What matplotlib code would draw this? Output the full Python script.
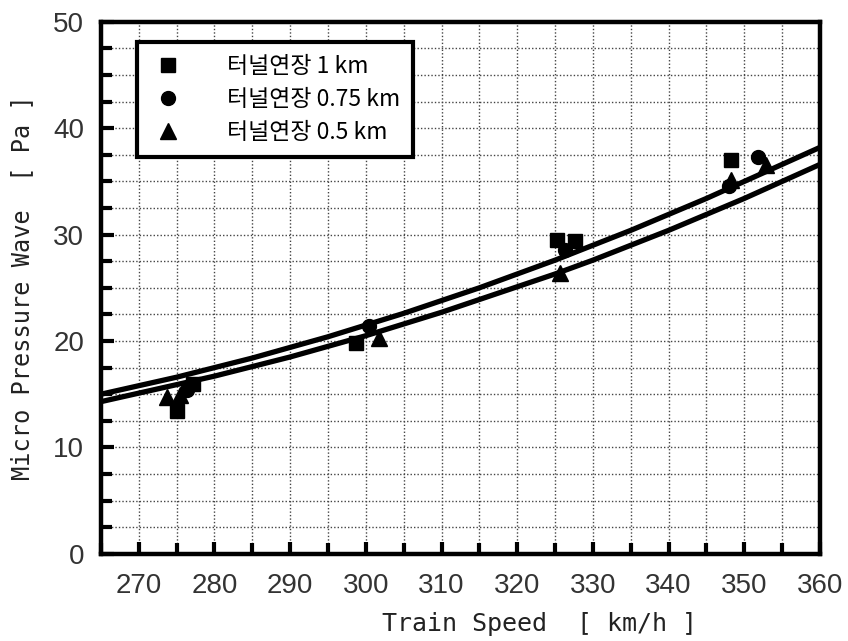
"""
Micro pressure wave vs. train speed for three tunnel lengths.
"""

import matplotlib
matplotlib.use("Agg")
import matplotlib.pyplot as plt
from matplotlib import font_manager
from matplotlib.lines import Line2D
from matplotlib.ticker import MultipleLocator

speed_1km = [275.1, 277.2, 298.7, 325.3, 327.6, 348.3]
mpw_1km = [13.4, 16.0, 19.8, 29.5, 29.4, 37.0]
speed_075km = [276.4, 300.4, 326.3, 348.0, 351.8]
mpw_075km = [15.4, 21.4, 28.6, 34.6, 37.3]
speed_05km = [273.7, 275.5, 301.7, 325.7, 348.2, 352.8]
mpw_05km = [14.7, 14.9, 20.3, 26.4, 35.1, 36.5]

# fitted curves
fit_speed = [265, 270, 275, 280, 285, 290, 295, 300, 305, 310,
             315, 320, 325, 330, 335, 340, 345, 350, 355, 360]
fit_upper = [15.0, 15.8, 16.6, 17.5, 18.4, 19.4, 20.4, 21.5, 22.6, 23.8,
             25.0, 26.3, 27.6, 29.0, 30.4, 31.9, 33.4, 35.0, 36.6, 38.2]
fit_lower = [14.3, 15.1, 15.9, 16.7, 17.6, 18.5, 19.5, 20.5, 21.6, 22.7,
             23.9, 25.1, 26.3, 27.6, 29.0, 30.4, 31.9, 33.4, 35.0, 36.6]

labels = ["터널연장 1 km", "터널연장 0.75 km", "터널연장 0.5 km"]

# fonts
installed = {f.name for f in font_manager.fontManager.ttflist}
tick_font = "Liberation Sans Narrow" if "Liberation Sans Narrow" in installed else "Liberation Sans"
mono = ["DejaVu Sans Mono", "Noto Sans CJK KR"]
korean = ["Noto Sans CJK KR", "DejaVu Sans"]

fig = plt.figure(figsize=(8.48, 6.41), dpi=100)
ax = fig.add_axes([0.119, 0.136, 0.848, 0.830])

# curves
ax.plot(fit_speed, fit_upper, "k-", lw=3.8, solid_capstyle="butt", zorder=3)
ax.plot(fit_speed, fit_lower, "k-", lw=3.8, solid_capstyle="butt", zorder=3)

# points
ax.plot(speed_1km, mpw_1km, "ks", ms=10, ls="none", zorder=4)
ax.plot(speed_075km, mpw_075km, "ko", ms=10, ls="none", zorder=4)
ax.plot(speed_05km, mpw_05km, "k^", ms=11, ls="none", zorder=4)

# axes
ax.set_xlim(265, 360)
ax.set_ylim(0, 50)
ax.xaxis.set_major_locator(MultipleLocator(10))
ax.xaxis.set_minor_locator(MultipleLocator(5))
ax.yaxis.set_major_locator(MultipleLocator(10))
ax.yaxis.set_minor_locator(MultipleLocator(2.5))
ax.grid(which="both", ls=(0, (1, 1.5)), lw=1.0, color="#444444")
ax.set_axisbelow(True)

for side in ax.spines.values():
    side.set_linewidth(3.2)

ax.tick_params(which="both", direction="in", width=3, top=False, right=False)
ax.tick_params(which="major", length=9)
ax.tick_params(which="minor", length=8)
ax.tick_params(axis="x", pad=14)
ax.tick_params(axis="y", pad=12)
for lab in ax.get_xticklabels() + ax.get_yticklabels():
    lab.set_fontfamily(tick_font)
    lab.set_fontsize(20)
    lab.set_color("#333333")

ax.set_xlabel("Train Speed  [ km/h ]", family=mono, fontsize=18, color="#222222")
ax.xaxis.set_label_coords(0.61, -0.11)
ax.set_ylabel("Micro Pressure Wave  [ Pa ]", family=mono, fontsize=17,
              labelpad=14, color="#222222")

# legend
handles = [
    Line2D([], [], color="k", marker="s", ls="none", ms=10),
    Line2D([], [], color="k", marker="o", ls="none", ms=10),
    Line2D([], [], color="k", marker="^", ls="none", ms=11),
]
leg = ax.legend(
    handles,
    labels,
    loc="upper left",
    bbox_to_anchor=(0.05, 0.962),
    prop={"family": korean, "size": 16.5},
    fancybox=False,
    framealpha=1,
    edgecolor="k",
    handletextpad=1.8,
    borderpad=0.55,
    labelspacing=0.45,
    handlelength=1.6,
    borderaxespad=0,
)
leg.get_frame().set_linewidth(3)

fig.savefig("out.png", dpi=100)
